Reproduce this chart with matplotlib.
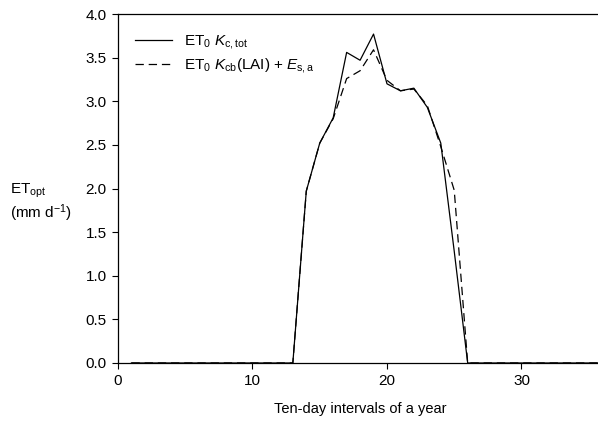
import numpy as np
import matplotlib.pyplot as plt

plt.rcParams['font.family'] = ['Liberation Sans', 'DejaVu Sans']
plt.rcParams['mathtext.fontset'] = 'custom'
plt.rcParams['mathtext.rm'] = 'Liberation Sans'
plt.rcParams['mathtext.it'] = 'Liberation Sans:italic'
plt.rcParams['lines.scale_dashes'] = False

# ten-day intervals 1..36
interval = np.arange(1, 37)
et_kc_tot = [0, 0, 0, 0, 0, 0, 0, 0, 0, 0, 0, 0, 0,
             1.97, 2.52, 2.81, 3.56, 3.47, 3.77, 3.20, 3.12, 3.15, 2.93, 2.52, 1.28,
             0, 0, 0, 0, 0, 0, 0, 0, 0, 0, 0]
et_kcb_es = [0, 0, 0, 0, 0, 0, 0, 0, 0, 0, 0, 0, 0,
             1.97, 2.52, 2.80, 3.26, 3.35, 3.59, 3.24, 3.12, 3.14, 2.95, 2.48, 1.98,
             0, 0, 0, 0, 0, 0, 0, 0, 0, 0, 0]

fig = plt.figure(figsize=(5.98, 4.26), dpi=100)
ax = fig.add_axes([0.1973, 0.1479, 0.8097, 0.8192])

ax.plot(interval, et_kc_tot, color='black', lw=0.9, label=r'ET$_0$ $\it{K}_{\rm c,tot}$')
ax.plot(interval, et_kcb_es, color='black', lw=0.9, dashes=(6, 3.5),
        label=r'ET$_0$ $\it{K}_{\rm cb}$(LAI) + $\it{E}_{\rm s,a}$')

ax.set_xlim(0, 36)
ax.set_ylim(0, 4.0)
ax.set_xticks([0, 10, 20, 30])
ax.set_yticks(np.arange(0, 4.01, 0.5))
ax.set_yticklabels(['%.1f' % v for v in np.arange(0, 4.01, 0.5)])
ax.tick_params(direction='out', length=4, width=0.8, labelsize=11, pad=4)
ax.spines['right'].set_visible(False)
for s in ['left', 'bottom', 'top']:
    ax.spines[s].set_linewidth(0.9)

ax.set_xlabel('Ten-day intervals of a year', fontsize=10.5, labelpad=10)
fig.text(0.017, 0.545, r'ET$_{\rm opt}$', fontsize=11, ha='left', va='baseline')
fig.text(0.017, 0.488, r'(mm d$^{-1}$)', fontsize=11, ha='left', va='baseline')

ax.legend(loc='upper left', frameon=False, fontsize=11, handlelength=2.4,
          handletextpad=0.8, borderaxespad=0.4, labelspacing=0.3,
          bbox_to_anchor=(0.01, 0.98))

fig.savefig('out.png', dpi=100)
